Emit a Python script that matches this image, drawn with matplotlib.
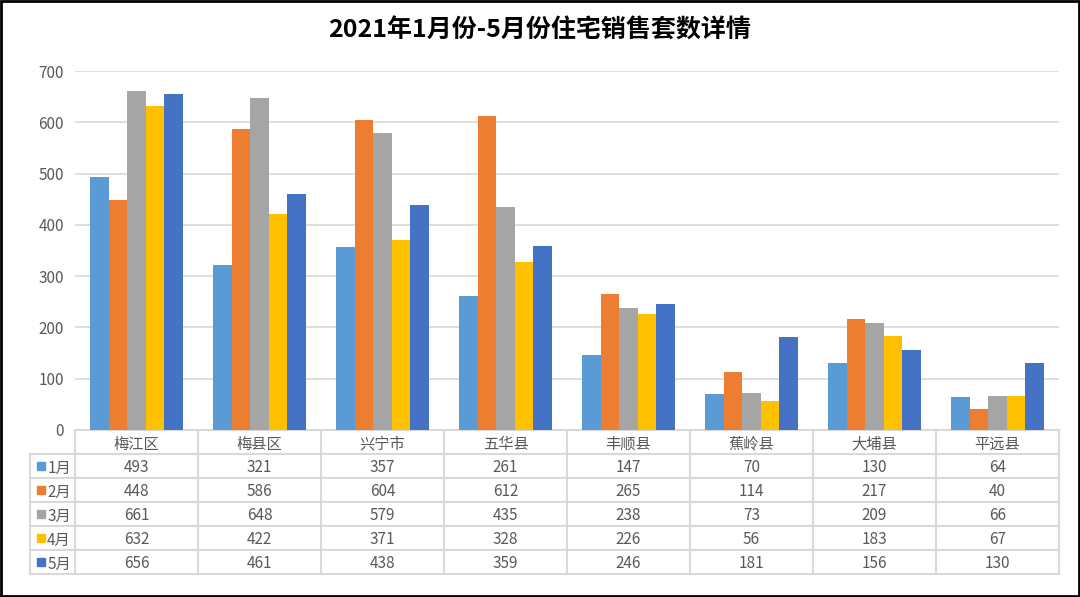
import matplotlib.pyplot as plt
from matplotlib.lines import Line2D
from matplotlib.patches import Rectangle
import numpy as np

plt.rcParams['font.family'] = ['Noto Sans CJK SC', 'DejaVu Sans']

districts = ["梅江区", "梅县区", "兴宁市", "五华县", "丰顺县", "蕉岭县", "大埔县", "平远县"]
months = ["1月", "2月", "3月", "4月", "5月"]
jan = [493, 321, 357, 261, 147, 70, 130, 64]
feb = [448, 586, 604, 612, 265, 114, 217, 40]
mar = [661, 648, 579, 435, 238, 73, 209, 66]
apr = [632, 422, 371, 328, 226, 56, 183, 67]
may = [656, 461, 438, 359, 246, 181, 156, 130]
series = [jan, feb, mar, apr, may]
colors = ["#5B9BD5", "#ED7D31", "#A5A5A5", "#FFC000", "#4472C4"]

W, H = 1080, 597
fig = plt.figure(figsize=(W / 100, H / 100), dpi=100)
ax = fig.add_axes([75 / W, (H - 430) / H, (1059 - 75) / W, (430 - 71) / H])

x = np.arange(len(districts))
bw = 0.15
for i, vals in enumerate(series):
    ax.bar(x + (i - 2) * bw, vals, width=bw, color=colors[i], zorder=3)

ax.set_xlim(-0.5, len(districts) - 0.5)
ax.set_ylim(0, 700)
ax.set_yticks(range(0, 701, 100))
ax.grid(axis='y', color='#d9d9d9', linewidth=1.2, zorder=0)
for s in ['top', 'right', 'left', 'bottom']:
    ax.spines[s].set_visible(False)
ax.tick_params(axis='y', length=0, labelsize=11, labelcolor='#595959', pad=8)
ax.set_xticks([])

# data table under the axes
ax_h = 430 - 71
row_h = 24 / ax_h
off = 2 / ax_h  # nudge text down a bit
trans = ax.get_xaxis_transform()
grid_c = '#d9d9d9'
txt_c = '#595959'
legend_left = -0.5 - 45 / 123
n_rows = len(months)
bottom = -row_h * (n_rows + 1)

# horizontal lines
ax.add_line(Line2D([-0.5, 7.5], [0, 0], transform=trans, color=grid_c, lw=1.5, clip_on=False))
for r in range(1, n_rows + 2):
    ax.add_line(Line2D([legend_left, 7.5], [-r * row_h, -r * row_h], transform=trans,
                       color=grid_c, lw=1.5, clip_on=False))
# vertical lines
for c in range(len(districts) + 1):
    ax.add_line(Line2D([c - 0.5, c - 0.5], [0, bottom], transform=trans,
                       color=grid_c, lw=1.5, clip_on=False))
ax.add_line(Line2D([legend_left, legend_left], [-row_h, bottom], transform=trans,
                   color=grid_c, lw=1.5, clip_on=False))

for c, name in enumerate(districts):
    ax.text(c, -0.5 * row_h - off, name, transform=trans, ha='center', va='center',
            fontsize=11, color=txt_c)
for r, (m, vals) in enumerate(zip(months, series)):
    yc = -(r + 1.5) * row_h
    ax.add_patch(Rectangle((legend_left + 0.055, yc - 0.011), 0.065, 0.022,
                           transform=trans, color=colors[r], clip_on=False))
    ax.text(legend_left + 0.14, yc - off, m, transform=trans, ha='left', va='center',
            fontsize=11, color=txt_c)
    for c, v in enumerate(vals):
        ax.text(c, yc - off, str(v), transform=trans, ha='center', va='center',
                fontsize=11, color=txt_c)

fig.text(0.5, 1 - 31 / H, "2021年1月份-5月份住宅销售套数详情", ha='center', va='center',
         fontsize=18, fontweight='bold', color='black')

fig.add_artist(Rectangle((0.001, 0.002), 0.998, 0.996, transform=fig.transFigure,
                         fill=False, edgecolor='black', linewidth=2))

plt.savefig('out.png', dpi=100)
